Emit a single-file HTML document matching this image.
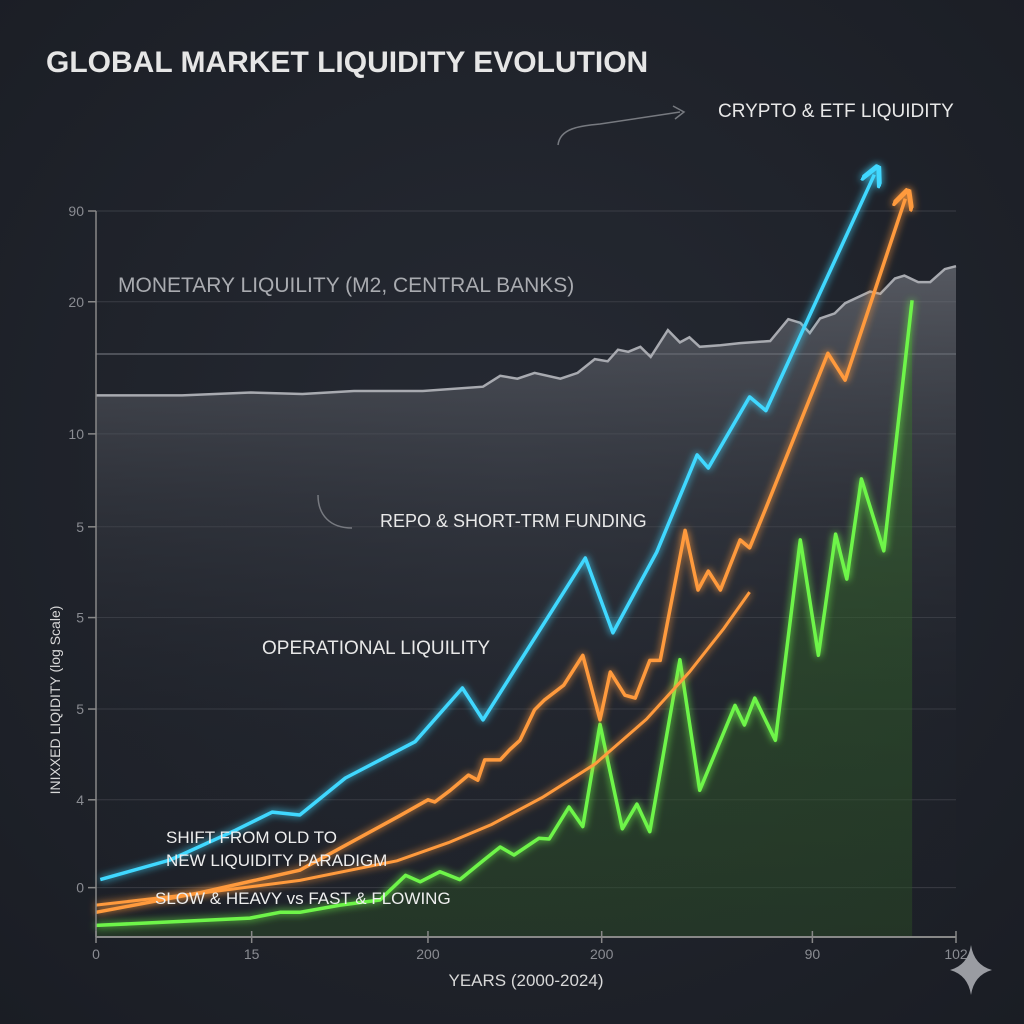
<!DOCTYPE html>
<html><head><meta charset="utf-8"><style>
html,body{margin:0;padding:0;background:#1d2028;}
svg{display:block;font-family:"Liberation Sans",sans-serif;}
</style></head><body>
<svg id="chart" width="1024" height="1024" viewBox="0 0 1024 1024">
<defs>
<radialGradient id="bg" cx="0.5" cy="0.45" r="0.75"><stop offset="0" stop-color="#262a33"/><stop offset="1" stop-color="#1a1d24"/></radialGradient>
<linearGradient id="grayFill" x1="0" y1="0" x2="0" y2="1"><stop offset="0" stop-color="#7a7d85" stop-opacity="0.6"/><stop offset="0.35" stop-color="#454850" stop-opacity="0.4"/><stop offset="0.7" stop-color="#252830" stop-opacity="0.1"/><stop offset="1" stop-color="#252830" stop-opacity="0"/></linearGradient>
<linearGradient id="greenFill" x1="0" y1="0" x2="0" y2="1"><stop offset="0" stop-color="#3b7d2c" stop-opacity="0.45"/><stop offset="1" stop-color="#2a4a26" stop-opacity="0.5"/></linearGradient>
<filter id="glow" x="-20%" y="-20%" width="140%" height="140%"><feGaussianBlur stdDeviation="4" result="b"/><feMerge><feMergeNode in="b"/><feMergeNode in="SourceGraphic"/></feMerge></filter>
<marker id="arC" markerWidth="6" markerHeight="6" refX="3" refY="3" orient="auto"><path d="M0,0 L6,3 L0,6" fill="none" stroke="#3fd8ff" stroke-width="1.4"/></marker>
<marker id="arO" markerWidth="6" markerHeight="6" refX="3" refY="3" orient="auto"><path d="M0,0 L6,3 L0,6" fill="none" stroke="#ff9a3c" stroke-width="1.4"/></marker>
</defs>
<rect width="1024" height="1024" fill="url(#bg)"/>
<text x="46" y="72" font-size="30" font-weight="bold" fill="#e6e6e6">GLOBAL MARKET LIQUIDITY EVOLUTION</text>
<g id="grid"></g>
<g id="series"></g>
<g id="axes"></g>
<text x="118" y="292" font-size="21" fill="#a9abb0">MONETARY LIQUILITY (M2, CENTRAL BANKS)</text>
<text x="718" y="117" font-size="19" fill="#e8e8e8">CRYPTO &amp; ETF LIQUIDITY</text>
<path d="M558,145 C560,128 580,126 600,124 L680,112" fill="none" stroke="#777a80" stroke-width="1.5"/>
<path d="M673,106 L684,112 L675,119" fill="none" stroke="#777a80" stroke-width="1.5"/>
<text x="380" y="527" font-size="18" fill="#e8e8e8">REPO &amp; SHORT-TRM FUNDING</text>
<path d="M318,495 C318,515 330,528 352,528" fill="none" stroke="#777a80" stroke-width="1.5"/>
<text x="262" y="654" font-size="19" fill="#e8e8e8">OPERATIONAL LIQUILITY</text>
<text x="166" y="843" font-size="17" fill="#eeeeee">SHIFT FROM OLD TO</text>
<text x="166" y="866" font-size="17" fill="#eeeeee">NEW LIQUIDITY PARADIGM</text>
<text x="155" y="904" font-size="17" fill="#eeeeee">SLOW &amp; HEAVY vs FAST &amp; FLOWING</text>
<text x="60" y="700" font-size="14" fill="#d8d8d8" transform="rotate(-90 60 700)" text-anchor="middle">INIXXED LIQIDITY (log Scale)</text>
<text x="526" y="986" font-size="17" fill="#d8d8d8" text-anchor="middle">YEARS (2000-2024)</text>
<path d="M971,945 Q974,965 992,970 Q974,975 971,995 Q968,975 950,970 Q968,965 971,945Z" fill="#9a9ca2"/>
</svg>
<script>
const xTicks=[0,18.1,38.6,58.8,83.3,100];
const xTickLabels=["0","15","200","200","90","102"];
const yTicks=[100,87.5,69.3,56.5,44,31.4,18.9,6.8];
const yTickLabels=["90","20","10","5","5","5","4","0"];
const monoX=[0,10,18,24,30,38,45,47,49,51,54,56,58,59.5,60.7,61.9,63.3,64.5,66.5,67.9,69,70.2,72.6,74.9,78.4,80.5,81.9,83,84.2,85.9,87.1,90,91.2,92.9,94,95.6,97,98.7,100];
const monoY=[74.6,74.6,75,74.8,75.2,75.2,75.8,77.3,76.9,77.7,76.9,77.7,79.6,79.3,80.9,80.6,81.3,79.9,83.6,81.9,82.6,81.3,81.5,81.8,82.1,85.1,84.6,83.2,85.2,85.9,87.3,88.9,88.6,90.7,91.1,90.2,90.2,92,92.4];
const cyanX=[0.5,8.6,16.2,20.5,23.7,29,37.1,42.6,45,56.9,60.1,65.2,69.9,71.2,76,77.9,90.5];
const cyanY=[7.9,10.6,14.7,17.2,16.8,21.9,26.9,34.3,29.9,52.2,41.9,53,66.4,64.6,74.4,72.5,105];
const orangeX=[0,12.1,23.7,35.3,38.6,39.4,41.2,43.3,44.4,45.2,47,48.1,49.3,51,52.1,54.4,56.6,58.6,59.8,61.5,62.7,64.4,65.6,68.5,70,71.2,72.6,74.9,76,77.8,85.1,87.1,94.1];
const orangeY=[3.4,6.1,9.2,16.7,18.9,18.6,20.2,22.3,21.6,24.4,24.4,25.8,27.1,31.3,32.6,34.7,38.8,29.9,36.5,33.3,32.9,38.1,38.1,56,47.8,50.4,47.8,54.7,53.6,58.8,80.4,76.7,101.7];
const curveX=[0,12,23.7,35,41,46,52,58,64,69,73,76];
const curveY=[4.4,6,7.8,10.5,13,15.5,19.3,23.8,30,36.5,42.5,47.5];
const greenX=[0,17.9,21.4,23.7,28.4,33,36,37.7,40,42.3,45.1,47,48.6,51.5,52.7,55,56.6,58.6,61.2,62.9,64.4,67.9,70.2,74.3,75.4,76.6,79,81.9,84,86,87.3,89,91.6,94.9];
const greenY=[1.6,2.6,3.4,3.4,4.4,5.1,8.5,7.6,9,7.9,10.6,12.4,11.3,13.6,13.5,17.9,15.2,29.3,14.9,18.3,14.5,38.2,20.2,31.9,29.2,32.9,27.1,54.7,38.8,55.5,49.3,63.1,53.2,87.7];
const X0=96,X1=956,Y0=937,Y1=211;
function sx(v){return X0+(X1-X0)*v/100;}
function sy(v){return Y0-(Y0-Y1)*v/100;}
const NS="http://www.w3.org/2000/svg";
function mk(tag,attrs,parent){const e=document.createElementNS(NS,tag);for(const k in attrs)e.setAttribute(k,attrs[k]);parent.appendChild(e);return e;}
function pts(xs,ys){return xs.map((x,i)=>sx(x).toFixed(1)+","+sy(ys[i]).toFixed(1)).join(" ");}
const grid=document.getElementById("grid"),ser=document.getElementById("series"),axes=document.getElementById("axes");
yTicks.forEach((t,i)=>{
 const g=mk("line",{x1:X0,x2:X1,y1:sy(t),y2:sy(t),stroke:"#3a3d45","stroke-width":1},grid);
 
 
 const tk=mk("line",{x1:X0-8,x2:X0,y1:sy(t),y2:sy(t),stroke:"#888","stroke-width":1.5},axes);
 
 
 const tx=mk("text",{x:X0-12,y:sy(t)+5,"font-size":14,fill:"#8a8c92","text-anchor":"end"},axes);
 tx.textContent=yTickLabels[i];
 
 
});
const hl=mk("line",{x1:X0,x2:X1,y1:354,y2:354,stroke:"#6a6d75","stroke-width":1.2},grid);


const ma=mk("polygon",{points:sx(monoX[0])+","+Y0+" "+pts(monoX,monoY)+" "+sx(monoX[monoX.length-1])+","+Y0,fill:"url(#grayFill)"},ser);


const ml=mk("polyline",{points:pts(monoX,monoY),fill:"none",stroke:"#a8aab0","stroke-width":2.5},ser);


const ga=mk("polygon",{points:sx(greenX[0])+","+Y0+" "+pts(greenX,greenY)+" "+sx(greenX[greenX.length-1])+","+Y0,fill:"url(#greenFill)"},ser);


const gl=mk("polyline",{points:pts(greenX,greenY),fill:"none",stroke:"#6ef54a","stroke-width":3.5,filter:"url(#glow)","stroke-linejoin":"round"},ser);


const cl=mk("polyline",{points:pts(curveX,curveY),fill:"none",stroke:"#ff9a3c","stroke-width":3,filter:"url(#glow)"},ser);


const ol=mk("polyline",{points:pts(orangeX,orangeY),fill:"none",stroke:"#ff9a3c","stroke-width":3.5,filter:"url(#glow)","stroke-linejoin":"round","marker-end":"url(#arO)"},ser);


const cy=mk("polyline",{points:pts(cyanX,cyanY),fill:"none",stroke:"#3fd8ff","stroke-width":3.5,filter:"url(#glow)","stroke-linejoin":"round","marker-end":"url(#arC)"},ser);


const ya=mk("line",{x1:X0,x2:X0,y1:Y1,y2:Y0,stroke:"#888","stroke-width":1.5},axes);


const xa=mk("line",{x1:X0,x2:X1,y1:Y0,y2:Y0,stroke:"#888","stroke-width":2},axes);


xTicks.forEach((t,i)=>{
 const tk=mk("line",{x1:sx(t),x2:sx(t),y1:Y0-6,y2:Y0+6,stroke:"#888","stroke-width":1.5},axes);
 
 
 const tx=mk("text",{x:sx(t),y:Y0+22,"font-size":14,fill:"#8a8c92","text-anchor":"middle"},axes);
 tx.textContent=xTickLabels[i];
 
 
});
</script>
</body></html>
